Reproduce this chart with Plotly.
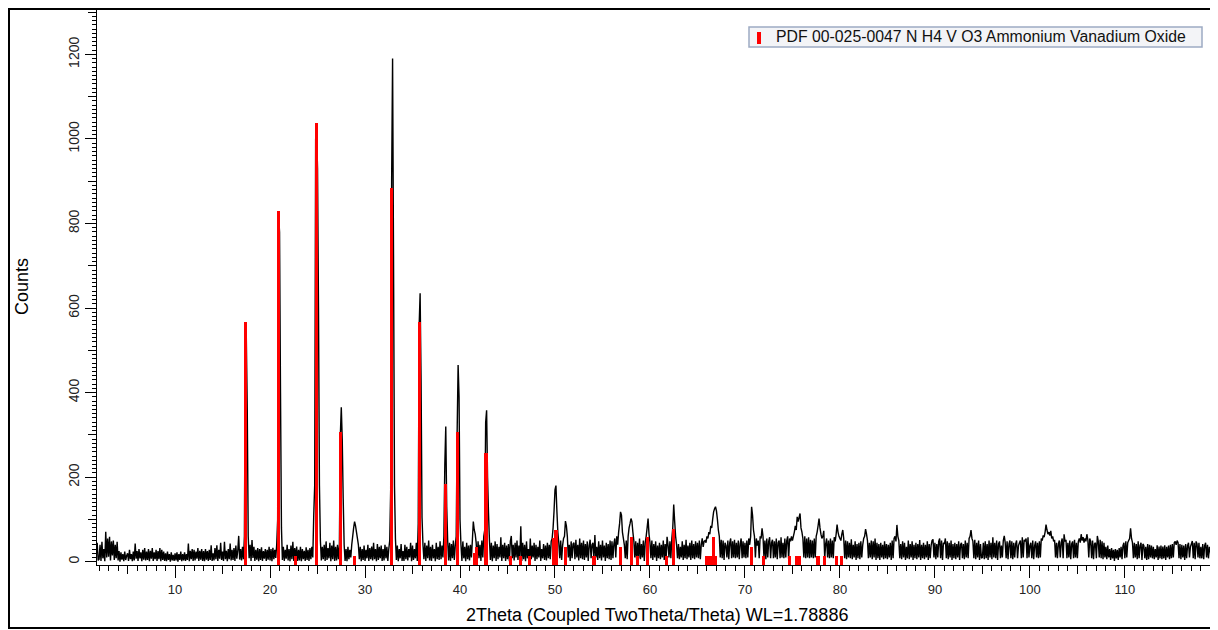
import plotly.graph_objects as go

# ---------------- data ----------------
TWO_THETA_START = 1.8
TWO_THETA_STEP = 0.1

# measured counts, one line per degree (values at .0 .1 ... .9)
counts_01 = [
    45, 3,
    6, 40, 2, 47, 8, 30, 1, 71, 10, 55,
    12, 59, 3, 48, 15, 50, 4, 40, 8, 47,
    3, 25, 0, 22, 5, 18, 1, 24, 4, 14,
    20, 2, 28, 6, 18, 1, 24, 3, 43, 7,
    25, 2, 30, 8, 22, 1, 28, 5, 32, 3,
    24, 4, 30, 1, 26, 7, 32, 2, 22, 6,
    28, 2, 25, 6, 32, 1, 28, 4, 24, 2,
    20, 1, 24, 4, 18, 0, 22, 3, 16, 2,
]
counts_10 = [
    20, 3, 22, 0, 18, 4, 24, 1, 18, 3,
    22, 2, 18, 4, 43, 1, 26, 6, 30, 2,
    28, 3, 24, 7, 32, 2, 26, 5, 30, 2,
    25, 1, 30, 5, 25, 2, 28, 4, 39, 2,
    20, 3, 32, 6, 39, 2, 28, 7, 45, 4,
    24, 2, 47, 6, 26, 1, 30, 6, 43, 3,
    28, 4, 32, 2, 38, 7, 26, 61, 5, 30,
    3, 35, 6, 60, 545, 530, 360, 60, 8, 40,
    2, 51, 9, 35, 2, 28, 5, 32, 1, 30,
    4, 34, 2, 25, 7, 30, 2, 28, 5, 35,
]
counts_20 = [
    3, 30, 1, 33, 6, 28, 9, 40, 100, 820,
    780, 400, 80, 4, 35, 2, 28, 7, 40, 3,
    30, 1, 38, 6, 47, 2, 32, 7, 36, 2,
    28, 3, 35, 1, 30, 6, 26, 2, 34, 4,
    28, 2, 32, 6, 35, 10, 110, 180, 1000, 1020,
    930, 600, 180, 50, 3, 35, 6, 40, 2, 48,
    4, 32, 8, 45, 1, 38, 6, 50, 2, 35,
    3, 40, 6, 40, 300, 365, 290, 150, 40, 2,
    30, 1, 35, 6, 28, 10, 40, 60, 80, 95,
    85, 70, 55, 40, 6, 35, 1, 30, 4, 38,
]
counts_30 = [
    2, 28, 8, 40, 2, 32, 6, 36, 3, 45,
    6, 30, 1, 42, 4, 35, 8, 38, 2, 30,
    3, 40, 8, 35, 2, 30, 50, 170, 900, 1190,
    720, 180, 55, 4, 38, 1, 30, 8, 42, 2,
    25, 2, 40, 6, 35, 3, 30, 10, 45, 1,
    38, 4, 30, 8, 45, 2, 90, 560, 635, 430,
    105, 40, 6, 45, 2, 38, 8, 50, 3, 35,
    2, 40, 8, 30, 1, 45, 6, 35, 4, 48,
    6, 38, 10, 60, 230, 320, 130, 50, 3, 45,
    2, 42, 8, 50, 4, 38, 60, 310, 465, 390,
]
counts_40 = [
    100, 40, 2, 48, 8, 35, 1, 45, 6, 38,
    3, 40, 10, 50, 95, 75, 65, 45, 4, 48,
    8, 40, 2, 50, 10, 60, 75, 330, 358, 200,
    115, 50, 4, 45, 1, 38, 8, 48, 2, 42,
    6, 35, 10, 58, 2, 40, 8, 45, 2, 38,
    6, 42, 1, 48, 61, 8, 40, 3, 45, 10,
    50, 4, 38, 8, 84, 2, 45, 6, 40, 1,
    48, 8, 30, 2, 55, 6, 38, 10, 45, 2,
    40, 6, 35, 10, 50, 2, 30, 8, 42, 4,
    38, 3, 45, 8, 40, 6, 48, 55, 80, 120,
]
counts_50 = [
    170, 180, 120, 70, 45, 8, 50, 4, 38, 55,
    60, 96, 85, 60, 10, 40, 2, 48, 8, 42,
    45, 6, 52, 10, 40, 3, 55, 8, 45, 6,
    50, 4, 42, 10, 48, 2, 38, 52, 8, 40,
    45, 6, 63, 10, 35, 4, 48, 8, 40, 3,
    50, 10, 38, 2, 45, 8, 42, 6, 50, 4,
    48, 8, 42, 55, 10, 60, 40, 70, 90, 118,
    110, 70, 55, 40, 8, 50, 6, 60, 80, 90,
    102, 95, 70, 50, 10, 48, 4, 45, 8, 55,
    6, 42, 10, 50, 2, 45, 60, 80, 102, 65,
]
counts_60 = [
    45, 8, 50, 4, 42, 10, 48, 2, 38, 8,
    45, 6, 40, 10, 50, 4, 42, 8, 59, 40,
    10, 48, 8, 55, 80, 135, 95, 60, 40, 8,
    42, 6, 35, 10, 48, 4, 40, 8, 52, 6,
    38, 10, 45, 4, 50, 8, 42, 6, 48, 10,
    45, 8, 50, 6, 40, 55, 35, 48, 50, 45,
    60, 55, 70, 65, 85, 80, 100, 118, 125, 130,
    120, 100, 75, 60, 10, 52, 8, 50, 4, 45,
    38, 10, 50, 6, 45, 55, 8, 48, 10, 52,
    8, 45, 10, 50, 6, 42, 55, 8, 48, 10,
]
counts_70 = [
    45, 8, 50, 10, 55, 40, 60, 130, 110, 75,
    60, 10, 55, 38, 50, 8, 60, 55, 79, 60,
    10, 50, 6, 55, 10, 48, 58, 8, 45, 52,
    8, 48, 10, 55, 6, 45, 50, 8, 58, 10,
    45, 8, 55, 10, 50, 60, 6, 55, 48, 60,
    50, 60, 70, 85, 75, 106, 95, 105, 114, 80,
    70, 55, 10, 60, 8, 55, 10, 58, 8, 52,
    10, 50, 8, 55, 10, 60, 70, 85, 102, 80,
    65, 55, 60, 73, 8, 42, 55, 10, 50, 8,
    55, 10, 50, 8, 58, 48, 65, 88, 70, 60,
]
counts_80 = [
    55, 50, 65, 75, 55, 8, 50, 6, 48, 10,
    45, 8, 53, 6, 40, 10, 48, 4, 42, 8,
    45, 6, 48, 10, 40, 55, 60, 77, 65, 50,
    8, 45, 10, 50, 6, 48, 10, 55, 4, 45,
    8, 42, 4, 45, 10, 40, 6, 48, 8, 42,
    6, 40, 10, 45, 4, 50, 8, 55, 60, 48,
    87, 60, 50, 8, 42, 6, 48, 10, 45, 4,
    35, 8, 50, 6, 42, 10, 48, 4, 40, 8,
    45, 6, 42, 10, 51, 4, 40, 8, 45, 6,
    40, 10, 48, 4, 42, 8, 38, 50, 53, 10,
]
counts_90 = [
    45, 6, 42, 10, 48, 55, 8, 50, 4, 45,
    42, 55, 8, 48, 6, 45, 10, 50, 4, 42,
    8, 45, 6, 42, 10, 48, 4, 40, 45, 8,
    42, 6, 50, 10, 45, 8, 55, 60, 75, 55,
    48, 8, 52, 6, 45, 10, 50, 4, 42, 8,
    10, 45, 6, 48, 8, 42, 4, 50, 10, 45,
    6, 58, 10, 45, 8, 50, 4, 42, 48, 8,
    38, 10, 50, 61, 45, 8, 48, 6, 42, 50,
    8, 48, 6, 45, 10, 42, 50, 8, 38, 45,
    50, 8, 58, 10, 52, 48, 55, 8, 58, 10,
]
counts_100 = [
    38, 45, 8, 50, 6, 38, 48, 10, 45, 8,
    48, 10, 55, 50, 62, 58, 70, 88, 75, 65,
    70, 62, 73, 55, 60, 48, 52, 10, 45, 8,
    42, 50, 10, 45, 55, 8, 65, 48, 52, 8,
    45, 10, 50, 6, 42, 48, 8, 52, 10, 45,
    8, 48, 55, 45, 65, 50, 58, 45, 55, 48,
    65, 52, 10, 55, 48, 8, 50, 6, 42, 45,
    8, 61, 48, 10, 52, 8, 48, 6, 45, 10,
    35, 6, 38, 10, 30, 4, 32, 8, 28, 2,
    30, 8, 28, 4, 32, 10, 35, 6, 38, 45,
]
counts_110 = [
    8, 48, 10, 45, 50, 55, 79, 55, 45, 8,
    45, 10, 42, 6, 48, 8, 38, 45, 4, 42,
    38, 8, 35, 4, 42, 6, 40, 10, 38, 8,
    35, 6, 30, 10, 39, 4, 36, 8, 38, 6,
    36, 8, 39, 4, 35, 10, 38, 6, 40, 8,
    42, 10, 45, 48, 40, 50, 45, 8, 42, 6,
    40, 10, 38, 4, 42, 8, 38, 45, 10, 35,
    42, 49, 8, 45, 6, 48, 42, 10, 45, 8,
    35, 8, 42, 6, 38, 45, 10, 40, 8, 35,
    25, 6, 20, 28, 4, 16, 8, 20,
]

# PDF 00-025-0047 reference lines (2theta, counts)
pdf_2theta = [17.38, 20.89, 22.70, 24.86, 27.38, 28.90, 32.77, 35.72, 38.45, 39.72,
              41.50, 41.75, 42.74, 45.35, 46.40, 47.35, 49.90, 50.10, 51.08, 54.10,
              56.87, 58.07, 58.72, 59.72, 61.75, 62.44, 65.95, 66.20, 66.45, 66.65,
              66.90, 70.68, 71.95, 74.65, 75.45, 75.70, 77.70, 78.40, 79.65, 80.18]
pdf_counts = [568, 830, 13, 1038, 307, 13, 884, 568, 183, 307,
              20, 35, 256, 13, 13, 13, 55, 76, 34, 13,
              34, 58, 13, 58, 13, 77, 13, 13, 13, 58,
              13, 34, 13, 13, 13, 13, 13, 13, 13, 13]

legend_name = "PDF 00-025-0047 N H4 V O3 Ammonium Vanadium Oxide"
x_title = "2Theta (Coupled TwoTheta/Theta) WL=1.78886"
y_title = "Counts"
x_ticks_major = [10, 20, 30, 40, 50, 60, 70, 80, 90, 100, 110]
x_ticks_mid = [5, 15, 25, 35, 45, 55, 65, 75, 85, 95, 105, 115]
y_ticks_major = [0, 200, 400, 600, 800, 1000, 1200]
y_ticks_mid = [100, 300, 500, 700, 900, 1100, 1300]

# ---------------- figure ----------------
counts = (counts_01 + counts_10 + counts_20 + counts_30 + counts_40 + counts_50 +
          counts_60 + counts_70 + counts_80 + counts_90 + counts_100 + counts_110)
two_theta = [round(TWO_THETA_START + TWO_THETA_STEP * i, 2) for i in range(len(counts))]

# the page body has an 8px default margin: design in window pixels, shift by OFF
OFF = 8
WIN_W, WIN_H = 1218, 630
W, H = WIN_W - OFF, WIN_H - OFF
PLOT_L, PLOT_R, PLOT_T, PLOT_B = 97, 1217, 10, 565          # window pixels
ML, MR, MT, MB = PLOT_L - OFF, WIN_W - PLOT_R, PLOT_T - OFF, WIN_H - PLOT_B
PW, PH = W - ML - MR, H - MT - MB


def px_x(p):  # window pixel -> paper x
    return (p - PLOT_L) / PW


def px_y(p):  # window pixel -> paper y
    return 1 - (p - PLOT_T) / PH


X_RANGE = [1.78, 119.7]
Y_RANGE = [-7.8, 1305]
FONT = "Arial, Liberation Sans, sans-serif"
RED = "#ff0000"

fig = go.Figure()
fig.add_trace(go.Scatter(
    x=two_theta, y=counts, mode="lines",
    line=dict(color="#000000", width=1.4, simplify=False),
    name="Measured", showlegend=False,
))
fig.add_trace(go.Bar(
    x=pdf_2theta, y=[c - Y_RANGE[0] for c in pdf_counts], base=Y_RANGE[0],
    width=0.34, marker=dict(color=RED, line=dict(width=0)),
    name=legend_name, showlegend=False,
    xaxis="x2", yaxis="y2",
    customdata=pdf_counts, hovertemplate="%{x}: %{customdata}<extra></extra>",
))

axis_common = dict(showgrid=False, zeroline=False, ticks="outside",
                   tickcolor="#000000", linecolor="#000000", automargin=False)

# legend box (drawn as shapes + text for a compact single-row key)
LEG_L, LEG_R, LEG_T, LEG_B = 749, 1202, 27, 47
shapes = [
    dict(type="rect", xref="paper", yref="paper",
         x0=px_x(LEG_L), x1=px_x(LEG_R), y0=px_y(LEG_B), y1=px_y(LEG_T),
         fillcolor="#f3f4f7", line=dict(color="#9dabc3", width=1.5), layer="above"),
    dict(type="rect", xref="paper", yref="paper",
         x0=px_x(757), x1=px_x(761), y0=px_y(44), y1=px_y(32),
         fillcolor=RED, line=dict(width=0), layer="above"),
    dict(type="rect", xref="paper", yref="paper",
         x0=px_x(OFF + 1), x1=px_x(1217), y0=px_y(628), y1=px_y(OFF + 1),
         line=dict(color="#000000", width=2), layer="above"),
]

annotations = [
    dict(text=legend_name, xref="paper", yref="paper",
         x=px_x(774), y=px_y((LEG_T + LEG_B) / 2), xanchor="left", yanchor="middle",
         showarrow=False, font=dict(size=15.8, family=FONT, color="#111111")),
    dict(text=y_title, xref="paper", yref="paper", textangle=-90,
         x=px_x(22), y=px_y(287), xanchor="center", yanchor="middle",
         showarrow=False, font=dict(size=18, family=FONT, color="#000000")),
    dict(text=x_title, xref="paper", yref="paper",
         x=px_x(657), y=px_y(615), xanchor="center", yanchor="middle",
         showarrow=False, font=dict(size=18, family=FONT, color="#000000")),
]

fig.update_layout(
    width=W, height=H,
    margin=dict(l=ML, r=MR, t=MT, b=MB),
    paper_bgcolor="#ffffff", plot_bgcolor="#ffffff",
    font=dict(family=FONT, color="#000000"),
    bargap=0, showlegend=False,
    xaxis=dict(
        **axis_common, range=X_RANGE, showline=True, linewidth=1,
        tickmode="array", tickvals=x_ticks_major, ticklen=12, tickwidth=1,
        tickfont=dict(size=13, color="#222222"),
        minor=dict(dtick=1, tick0=0, ticklen=5, ticks="outside", tickcolor="#000000"),
    ),
    yaxis=dict(
        **axis_common, range=Y_RANGE, showline=True, linewidth=1,
        tickmode="array", tickvals=y_ticks_major, ticklen=11, tickwidth=1,
        tickangle=-90, tickfont=dict(size=14, color="#222222"),
        minor=dict(dtick=10, tick0=0, ticklen=4, ticks="outside", tickcolor="#000000"),
    ),
    xaxis2=dict(
        **axis_common, range=X_RANGE, overlaying="x", anchor="y", side="bottom",
        showline=False, tickmode="array", tickvals=x_ticks_mid, ticklen=8,
        showticklabels=False,
    ),
    yaxis2=dict(
        **axis_common, range=Y_RANGE, overlaying="y", anchor="x", side="left",
        showline=False, tickmode="array", tickvals=y_ticks_mid, ticklen=8,
        showticklabels=False,
    ),
    shapes=shapes,
    annotations=annotations,
)

fig.write_html("out.html")
